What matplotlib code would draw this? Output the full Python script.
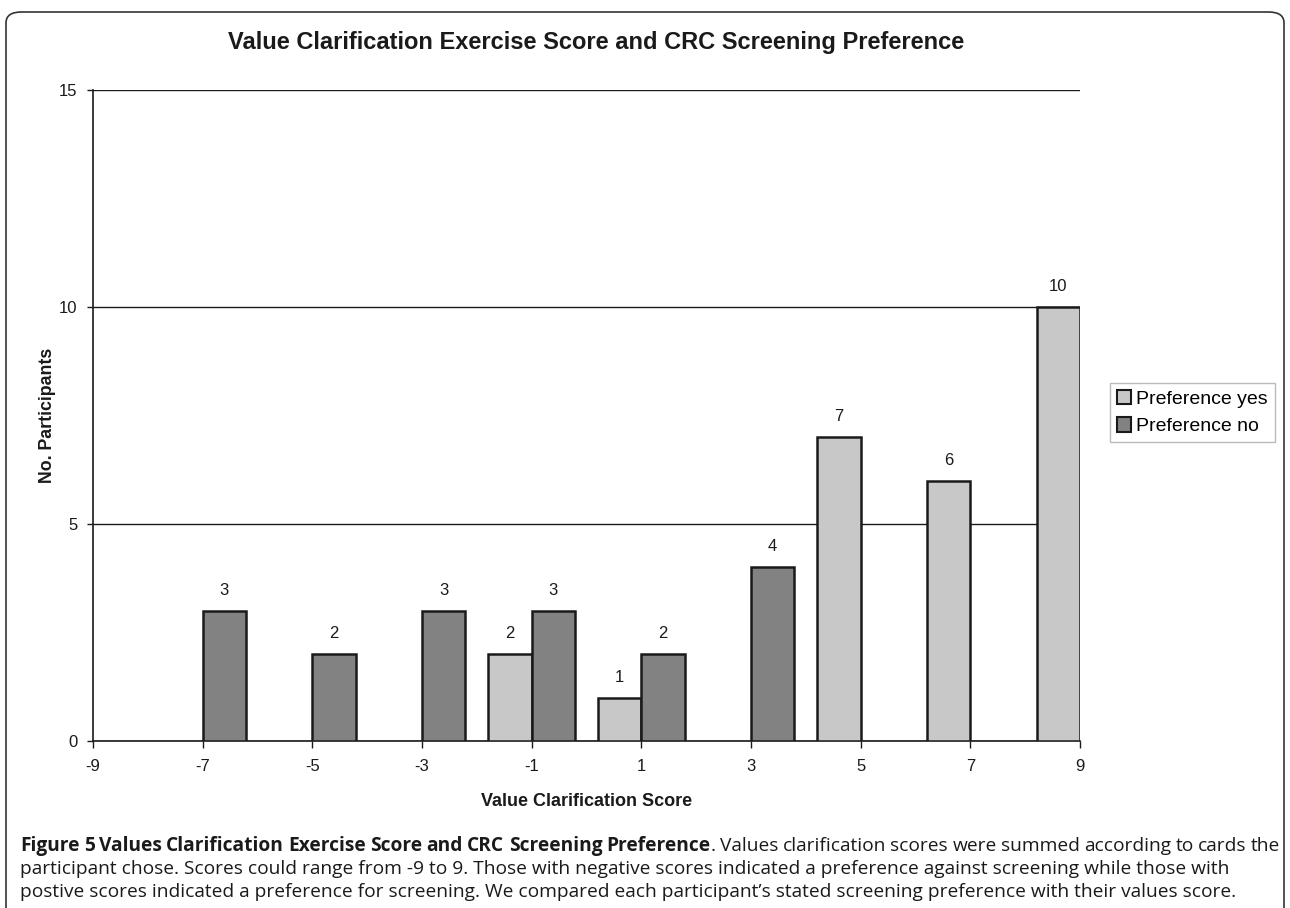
import matplotlib
matplotlib.use("Agg")
import matplotlib.pyplot as plt
import numpy as np
from matplotlib.patches import FancyBboxPatch

categories = ["-9", "-7", "-5", "-3", "-1", "1", "3", "5", "7", "9"]
pref_yes = [0, 0, 0, 0, 2, 1, 0, 7, 6, 10]
pref_no = [0, 3, 2, 3, 3, 2, 4, 0, 0, 0]
yticks = [0, 5, 10, 15]

plt.rcParams['font.family'] = ['Liberation Sans', 'DejaVu Sans']
INK = '#1a1a1a'

fig = plt.figure(figsize=(12.9, 9.08), dpi=100)
ax = fig.add_axes([93/1290, 1-741/908, (1080-93)/1290, (741-90)/908])

x = np.arange(len(categories))
w = 0.395
yes_c = '#c8c8c8'
no_c = '#828282'
b1 = ax.bar(x - w/2, pref_yes, w, color=yes_c, edgecolor=INK,
            linewidth=[1.8 if v > 0 else 0 for v in pref_yes], label='Preference yes', zorder=3)
b2 = ax.bar(x + w/2, pref_no, w, color=no_c, edgecolor=INK,
            linewidth=[1.8 if v > 0 else 0 for v in pref_no], label='Preference no', zorder=3)
for bars, vals in ((b1, pref_yes), (b2, pref_no)):
    for r, v in zip(bars, vals):
        if v > 0:
            ax.text(r.get_x() + r.get_width()/2, v + 0.3, str(v), ha='center', va='bottom',
                    fontsize=12, color=INK)

ax.set_xlim(0, 9)
ax.set_ylim(0, 15)
ax.set_xticks(x)
ax.set_xticklabels(categories, fontsize=12)
ax.set_yticks(yticks)
ax.set_yticklabels([str(t) for t in yticks], fontsize=12)
ax.yaxis.grid(True, color=INK, linewidth=1.0, zorder=0)
ax.set_axisbelow(True)
for s in ['top', 'right']:
    ax.spines[s].set_visible(False)
for s in ['left', 'bottom']:
    ax.spines[s].set_color(INK)
    ax.spines[s].set_linewidth(1.2)
ax.tick_params(axis='x', direction='out', length=5, width=1.0, color=INK,
               labelcolor=INK, pad=8)
ax.tick_params(axis='y', direction='out', length=4, width=1.0, color=INK,
               labelcolor=INK, pad=7)
ax.set_xlabel('Value Clarification Score', fontsize=13, fontweight='bold', labelpad=14,
              color=INK)
ax.set_ylabel('No. Participants', fontsize=12.8, fontweight='bold', labelpad=2, color=INK)

fig.text(596/1290, 1-42/908, 'Value Clarification Exercise Score and CRC Screening Preference',
         ha='center', va='center', fontsize=17, fontweight='bold', color=INK)

leg = ax.legend(loc='upper left', bbox_to_anchor=(1110/1290, 1-383/908),
                bbox_transform=fig.transFigure, fontsize=14, frameon=True, fancybox=False,
                handlelength=0.75, handleheight=0.75, handletextpad=0.25, borderpad=0.35,
                labelspacing=0.5, borderaxespad=0)
leg.get_frame().set_edgecolor('#aaaaaa')
leg.get_frame().set_linewidth(1.0)
for h in leg.legend_handles:
    h.set_linewidth(1.5)
    h.set_edgecolor(INK)

# border box
box = FancyBboxPatch((6/1290, -0.05), (1284-6)/1290, (0.05 + 1-12/908),
                     boxstyle='round,pad=0,rounding_size=0.012', transform=fig.transFigure,
                     fill=False, edgecolor='#333333', linewidth=1.2)
fig.add_artist(box)

# caption
cap_font = ['Open Sans', 'DejaVu Sans']
renderer = fig.canvas.get_renderer()
left_px = 20
line1 = [('Figure', 'bold'), ('5', 'bold'), ('Values', 'bold'), ('Clarification', 'bold'),
         ('Exercise', 'bold'), ('Score', 'bold'), ('and', 'bold'), ('CRC', 'bold'),
         ('Screening', 'bold'), ('Preference', 'bold'), ('.', 'normal'), ('Values', 'normal'),
         ('clarification', 'normal'), ('scores', 'normal'), ('were', 'normal'), ('summed', 'normal'),
         ('according', 'normal'), ('to', 'normal'), ('cards', 'normal'), ('the', 'normal')]
line2 = 'participant chose. Scores could range from -9 to 9. Those with negative scores indicated a preference against screening while those with'
line3 = 'postive scores indicated a preference for screening. We compared each participant\u2019s stated screening preference with their values score.'

probe = fig.text(0, 0, line3, fontsize=10, family=cap_font)
wpx = probe.get_window_extent(renderer).width
probe.remove()
cap_size = 10 * (1237 - left_px) / wpx

fig.text(left_px/1290, 1-869/908, line2, ha='left', va='center', fontsize=cap_size,
         family=cap_font, color=INK)
fig.text(left_px/1290, 1-892/908, line3, ha='left', va='center', fontsize=cap_size,
         family=cap_font, color=INK)

arts = []
for word, wt in line1:
    a = fig.text(0, 1-846/908, word, ha='left', va='center', fontsize=cap_size,
                 fontweight=wt, family=cap_font, color=INK)
    arts.append(a)
widths = [a.get_window_extent(renderer).width for a in arts]
target = 1280 - left_px
n_gaps = len(arts) - 2
gap = (target - sum(widths)) / n_gaps
xpos = left_px
for i, a in enumerate(arts):
    if i > 0 and line1[i][0] != '.':
        xpos += gap
    a.set_x(xpos / 1290)
    xpos += widths[i]

fig.savefig('out.png', dpi=100)
